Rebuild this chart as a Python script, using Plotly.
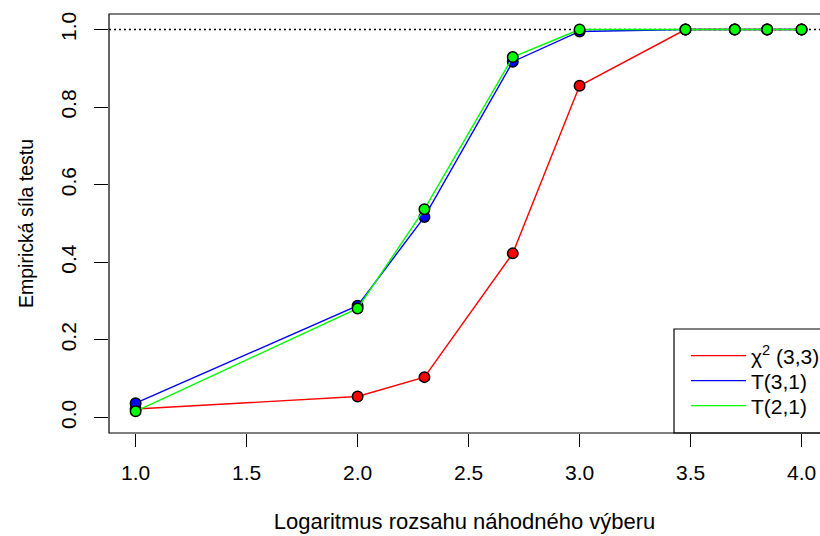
import plotly.graph_objects as go

# log10 of sample size
log_n = [1.0, 2.0, 2.301, 2.699, 3.0, 3.477, 3.699, 3.845, 4.0]

chi2_33 = [0.022, 0.054, 0.104, 0.423, 0.855, 1.0, 1.0, 1.0, 1.0]
t_31 = [0.037, 0.288, 0.517, 0.917, 0.995, 1.0, 1.0, 1.0, 1.0]
t_21 = [0.016, 0.281, 0.537, 0.929, 1.0, 1.0, 1.0, 1.0, 1.0]

series_names = ["χ<sup>2</sup> (3,3)", "T(3,1)", "T(2,1)"]
series_colors = ["#FF0000", "#0000FF", "#00FF00"]

x_ticks = [1.0, 1.5, 2.0, 2.5, 3.0, 3.5, 4.0]
y_ticks = [0.0, 0.2, 0.4, 0.6, 0.8, 1.0]
ref_level = 1.0

FONT = "Liberation Sans, Arial, Helvetica, sans-serif"
FS_TICK = 21
FS_LEG = 21

W, H = 820, 536
ML, MR, MT, MB = 109, 0, 14, 103
plot_w = W - ML - MR
plot_h = H - MT - MB

x_full = (0.88, 4.12)           # R-style extended range
px_per_unit = 719.2 / (x_full[1] - x_full[0])
x_vis_max = x_full[0] + plot_w / px_per_unit
box_right = (x_full[1] - x_full[0]) / (x_vis_max - x_full[0])


def px_x(px):
    return (px - ML) / plot_w


def px_y(py):
    return (MT + plot_h - py) / plot_h


fig = go.Figure()
for name, vals, col in zip(series_names, [chi2_33, t_31, t_21], series_colors):
    fig.add_trace(go.Scatter(
        x=log_n, y=vals, name=name, mode="lines+markers", showlegend=False,
        line=dict(color=col, width=1.4),
        marker=dict(size=10.5, color=col, line=dict(color="black", width=1.5)),
    ))

# legend entries (lines only, like the reference), one legend per row
legend_ids = ["legend", "legend2", "legend3"]
row_y = [356, 381, 406]
for name, col, lid in zip(series_names, series_colors, legend_ids):
    fig.add_trace(go.Scatter(
        x=[None], y=[None], name=name, mode="lines", legend=lid,
        line=dict(color=col, width=1.4), showlegend=True,
    ))

# horizontal dotted reference
fig.add_shape(type="line", xref="paper", yref="y", x0=0, x1=1,
              y0=ref_level, y1=ref_level,
              line=dict(color="black", width=1.4, dash="2px,3px"), layer="below")

# plot box (extends beyond the right edge as in reference)
fig.add_shape(type="rect", xref="paper", yref="paper", x0=0, x1=box_right,
              y0=0, y1=1, line=dict(color="black", width=1.2))

# legend box
fig.add_shape(type="rect", xref="paper", yref="paper",
              x0=px_x(674), x1=box_right, y0=0, y1=px_y(329),
              line=dict(color="black", width=1.2), fillcolor="white", layer="below")

legend_common = dict(xanchor="left", yanchor="middle",
                     bgcolor="rgba(0,0,0,0)", borderwidth=0,
                     font=dict(family=FONT, size=FS_LEG, color="black"),
                     itemwidth=55)
legend_layout = {}
for lid, ry in zip(legend_ids, row_y):
    legend_layout[lid] = dict(x=px_x(686), y=px_y(ry), **legend_common)

fig.update_layout(
    width=W, height=H,
    margin=dict(l=ML, r=MR, t=MT, b=MB, autoexpand=False),
    paper_bgcolor="white", plot_bgcolor="white",
    font=dict(family=FONT, size=FS_TICK, color="black"),
    showlegend=True,
    xaxis=dict(range=[x_full[0], x_vis_max], tickvals=x_ticks, tickformat=".1f",
               showgrid=False, zeroline=False, showline=False, automargin=False,
               ticks="outside", ticklen=13, tickwidth=1, tickcolor="black",
               tickfont=dict(size=FS_TICK), ticklabelstandoff=8,
               title=dict(text="Logaritmus rozsahu náhodného výberu",
                          font=dict(size=22), standoff=30)),
    yaxis=dict(range=[-0.04, 1.04], tickvals=y_ticks, tickformat=".1f",
               tickangle=-90, automargin=False,
               showgrid=False, zeroline=False, showline=False,
               ticks="outside", ticklen=14, tickwidth=1, tickcolor="black",
               tickfont=dict(size=FS_TICK), ticklabelstandoff=10,
               title=dict(text="Empirická síla testu", font=dict(size=19.5),
                          standoff=17)),
    **legend_layout,
)

fig.write_html("out.html",
               config={"displayModeBar": False, "staticPlot": False},
               post_script="document.body.style.margin='0';"
                           "document.body.style.overflow='hidden';")
